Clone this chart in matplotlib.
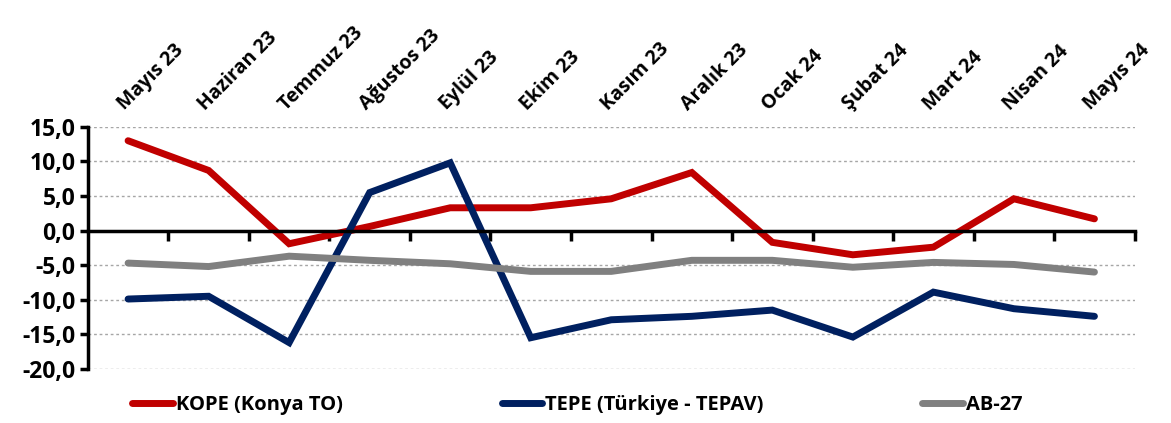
import matplotlib.pyplot as plt
import numpy as np

months = ['Mayıs 23', 'Haziran 23', 'Temmuz 23', 'Ağustos 23', 'Eylül 23', 'Ekim 23',
          'Kasım 23', 'Aralık 23', 'Ocak 24', 'Şubat 24', 'Mart 24', 'Nisan 24', 'Mayıs 24']
kope = [13.0, 8.7, -1.9, 0.6, 3.3, 3.3, 4.6, 8.4, -1.7, -3.5, -2.4, 4.6, 1.7]
tepe = [-9.9, -9.5, -16.2, 5.5, 9.8, -15.5, -12.9, -12.4, -11.5, -15.4, -8.9, -11.3, -12.4]
ab27 = [-4.7, -5.2, -3.7, -4.3, -4.8, -5.9, -5.9, -4.3, -4.3, -5.3, -4.6, -4.9, -6.0]

fnt = ['Open Sans', 'DejaVu Sans']
plt.rcParams['font.family'] = fnt

fig = plt.figure(figsize=(11.71, 4.23), dpi=100)
ax = fig.add_axes([0.075, 0.128, 0.894, 0.572])

x = np.arange(len(months))
ax.plot(x, kope, color='#C00000', lw=5, solid_capstyle='round', solid_joinstyle='miter', label='KOPE (Konya TO)')
ax.plot(x, tepe, color='#002060', lw=5, solid_capstyle='round', solid_joinstyle='miter', label='TEPE (Türkiye - TEPAV)')
ax.plot(x, ab27, color='#808080', lw=5, solid_capstyle='round', solid_joinstyle='miter', label='AB-27')

ax.set_xlim(-0.5, len(months) - 0.5)
ax.set_ylim(-20, 15)
ax.set_yticks(np.arange(-20, 16, 5))
ax.set_yticklabels([f'{v:.1f}'.replace('.', ',') for v in np.arange(-20, 16, 5)],
                   fontsize=16.5, fontweight='bold')
for v in np.arange(-20, 16, 5):
    if v != 0:
        ax.axhline(v, color='#a6a6a6', lw=1, ls=(0, (2, 2)), zorder=0)

ax.spines['top'].set_visible(False)
ax.spines['right'].set_visible(False)
ax.spines['left'].set_linewidth(2.5)
ax.spines['bottom'].set_position(('data', 0))
ax.spines['bottom'].set_linewidth(2.5)
ax.tick_params(axis='y', direction='out', length=6, width=2.5, pad=3)

ax.set_xticks(np.arange(0.5, len(months), 1))
ax.set_xticklabels([])
ax.tick_params(axis='x', direction='out', length=7, width=2.5)

for i, m in enumerate(months):
    ax.text(i, 16.8, m, rotation=45, ha='left', va='bottom', rotation_mode='anchor',
            fontsize=14, fontweight='bold')

fig.legend(loc='lower center', bbox_to_anchor=(0.493, -0.025), ncol=3, frameon=False,
           handlelength=2.0, handletextpad=0.15, columnspacing=7.9,
           prop={'weight': 'bold', 'size': 14.5})

fig.savefig('out.png', dpi=100)
